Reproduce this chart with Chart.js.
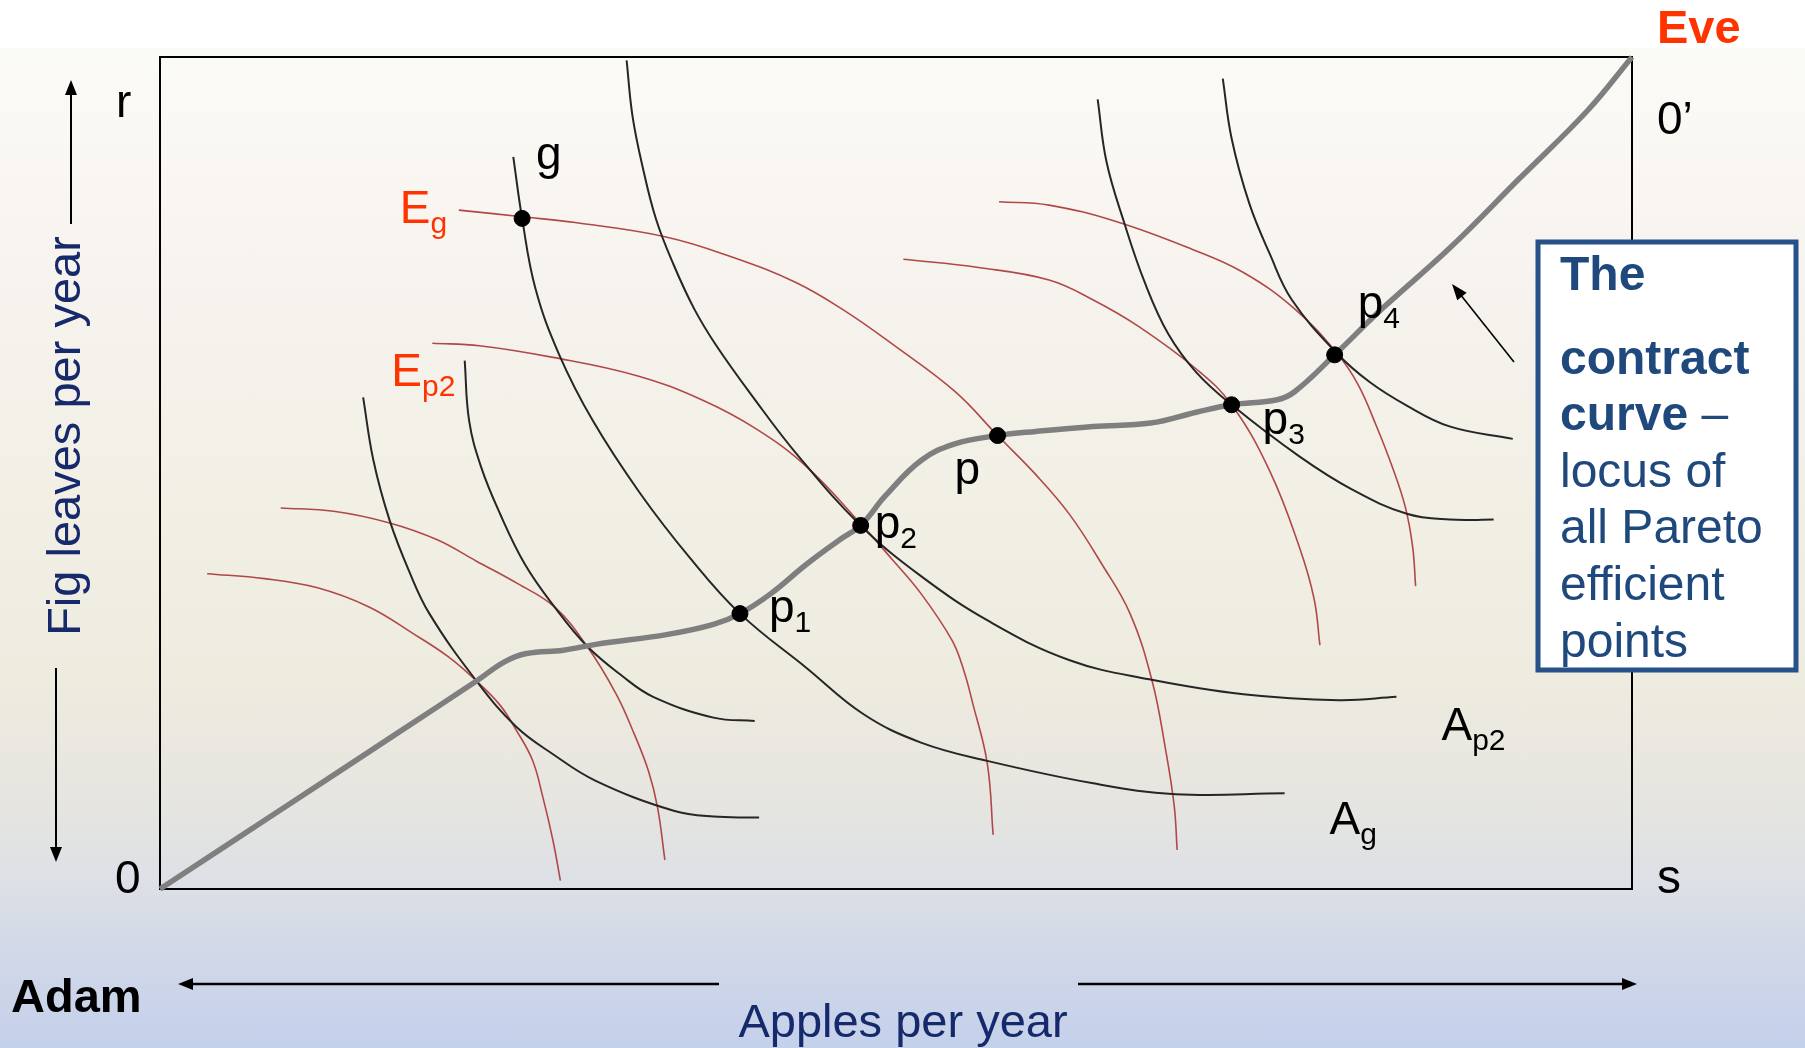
<!DOCTYPE html>
<html>
<head>
<meta charset="utf-8">
<script src="https://cdn.jsdelivr.net/npm/chart.js@4.4.1/dist/chart.umd.min.js"></script>
<style>
  html, body { margin: 0; padding: 0; }
  body {
    width: 1805px; height: 1048px; overflow: hidden;
    background: linear-gradient(to bottom, #ffffff 0px, #ffffff 47px, #fbfbf6 48px, #faf7f3 170px,
      #f6f3ee 300px, #f2efe5 500px, #eeebdf 680px, #e6e5e0 800px, #dde0e6 880px, #d0d7e8 960px, #c4d1eb 1048px);
  }
  #wrap { position: relative; width: 1805px; height: 1048px; }
</style>
</head>
<body>
<div id="wrap"><canvas id="edgeworth"></canvas></div>
<script>
// Edgeworth box, both axes 0..100 (Adam's origin bottom-left, Eve's top-right)
const contractCurve = [[0,0],[8.1,9.4],[16.1,18.7],[21.5,25.0],[23.4,27.3],[24.9,28.3],[27.4,28.7],[29.6,29.4],
  [34.5,30.6],[37.6,31.8],[39.4,33.1],[41.5,35.5],[43.9,39.0],[46.2,42.0],[47.6,43.7],
  [49.3,47.3],[51.7,51.5],[54.0,53.5],[56.9,54.5],[59.5,55.0],[63.4,55.6],[67.3,56.0],[70.4,57.3],[72.8,58.2],
  [75.9,58.8],[77.1,59.8],[79.8,64.2],[83.0,69.7],[87.6,77.0],[92.3,85.3],[97.0,93.6],[100,100]];

// Adam's indifference curves (black)
const adam1 = [[13.8,59.1],[14.5,51.5],[15.6,44.3],[16.9,38.3],[18.3,33.1],[21.5,25.0],[24.2,19.5],[26.7,16.2],
  [29.6,13.0],[34.9,9.4],[37.6,8.7],[40.7,8.6]];
const adam2 = [[20.7,63.5],[21.0,56.3],[21.8,50.8],[23.1,45.1],[24.8,39.0],[26.8,33.9],[29.0,29.2],[31.4,25.6],
  [33.5,23.1],[37.6,20.6],[40.4,20.2]];
const adamG = [[24.0,88.0],[24.6,80.6],[25.5,72.2],[27.1,64.3],[29.4,56.3],[32.6,47.6],[36.0,39.8],[39.4,33.1],
  [43.9,26.6],[47.8,21.0],[51.7,17.6],[56.2,15.4],[63.4,12.7],[69.0,11.4],[76.4,11.5]];
const adamP2 = [[31.7,99.6],[32.1,92.9],[32.8,86.7],[33.7,80.5],[34.9,75.0],[36.3,69.7],[37.8,65.3],[40.3,59.1],
  [43.2,52.4],[47.6,43.7],[51.7,37.6],[56.4,32.1],[61.8,27.5],[67.2,25.2],[73.6,23.4],[80.1,22.7],[84.0,23.1]];
const adam5 = [[63.7,94.9],[64.3,87.4],[65.5,80.1],[66.9,72.9],[68.5,66.7],[70.4,62.1],[72.8,58.2],[77.4,52.0],
  [81.0,48.0],[84.7,45.1],[87.6,44.4],[90.6,44.4]];
const adam6 = [[72.2,97.4],[72.8,90.2],[74.0,82.4],[75.4,76.3],[76.9,70.8],[80.0,64.3],[82.2,60.9],[84.7,58.1],
  [87.6,55.6],[91.9,54.1]];

// Eve's indifference curves (red)
const eve1 = [[3.2,37.9],[7.1,37.3],[10.7,36.2],[14.2,33.9],[17.2,30.7],[19.6,27.9],[21.5,25.0],[23.1,22.1],
  [24.2,19.1],[25.3,15.5],[26.0,11.1],[26.7,5.8],[27.2,1.0]];
const eve2 = [[8.2,45.8],[11.8,45.4],[15.6,44.0],[18.8,42.0],[21.5,39.4],[24.3,36.7],[26.8,33.9],[29.0,29.2],
  [31.0,23.4],[32.2,18.7],[33.2,14.1],[33.8,9.8],[34.3,3.5]];
const eveP2 = [[18.5,65.6],[21.7,65.3],[26.7,63.9],[32.4,61.7],[36.8,58.8],[40.5,55.3],[43.9,50.8],[47.5,44.1],
  [49.7,39.7],[51.7,35.5],[53.8,29.9],[54.6,26.3],[55.2,22.4],[56.2,15.1],[56.6,6.5]];
const eveG = [[20.3,81.6],[24.6,80.8],[28.2,80.1],[34.3,78.4],[38.8,76.0],[43.2,72.9],[46.6,69.4],[49.9,65.3],
  [54.0,59.8],[56.9,54.5],[59.5,49.8],[61.8,45.0],[64.0,39.0],[65.9,33.1],[67.4,25.0],[68.3,16.9],[68.9,10.0],[69.1,4.7]];
const eve5 = [[50.5,75.7],[55.6,74.7],[60.4,73.2],[63.4,70.8],[66.5,67.6],[70.4,62.5],[72.8,58.2],[75.4,50.2],
  [77.4,41.1],[78.4,34.9],[78.8,29.3]];
const eve6 = [[57.0,82.6],[60.4,82.2],[65.0,80.2],[70.1,76.9],[73.6,74.1],[77.1,69.7],[80.0,64.3],[81.4,60.6],
  [82.6,55.8],[83.7,50.8],[84.6,45.9],[85.1,41.1],[85.3,36.4]];

// labelled allocations
const allocations = [[24.6,80.6],[39.4,33.1],[47.6,43.7],[56.9,54.5],[72.8,58.2],[79.8,64.2]];
const allocationNames = ['g','p','p','p','p','p'];
const allocationSubs = ['','1','2','','3','4'];

const calloutLines = ['The', '', 'contract', 'curve', 'locus of', 'all Pareto', 'efficient', 'points'];

const toXY = arr => arr.map(p => ({ x: p[0], y: p[1] }));
const FONT = '"Liberation Sans", Arial, Helvetica, sans-serif';
const BLACK_IC = '#262626';
const RED_IC = '#b04848';

function curve(arr, color, width) {
  return {
    data: toXY(arr), showLine: true, borderColor: color, borderWidth: width,
    pointRadius: 0, pointHoverRadius: 0, tension: 0.4, fill: false, clip: false
  };
}

function arrow(ctx, x1, y1, x2, y2, head, half) {
  const a = Math.atan2(y2 - y1, x2 - x1);
  ctx.beginPath();
  ctx.moveTo(x1, y1);
  ctx.lineTo(x2 - Math.cos(a) * head * 0.8, y2 - Math.sin(a) * head * 0.8);
  ctx.stroke();
  ctx.beginPath();
  ctx.moveTo(x2, y2);
  ctx.lineTo(x2 - Math.cos(a) * head - Math.sin(a) * half, y2 - Math.sin(a) * head + Math.cos(a) * half);
  ctx.lineTo(x2 - Math.cos(a) * head + Math.sin(a) * half, y2 - Math.sin(a) * head - Math.cos(a) * half);
  ctx.closePath();
  ctx.fill();
}

function subText(ctx, x, y, main, sub, size, subSize, color) {
  ctx.fillStyle = color;
  ctx.font = size + 'px ' + FONT;
  ctx.fillText(main, x, y);
  if (sub) {
    const w = ctx.measureText(main).width;
    ctx.font = subSize + 'px ' + FONT;
    ctx.fillText(sub, x + w, y + 10);
  }
}

const boxPlugin = {
  id: 'boxPlugin',
  beforeDatasetsDraw(chart) {
    const { ctx, chartArea: a } = chart;
    ctx.save();
    ctx.strokeStyle = '#000';
    ctx.lineWidth = 2;
    ctx.strokeRect(a.left, a.top, a.right - a.left, a.bottom - a.top);
    ctx.restore();
  },
  afterDatasetsDraw(chart) {
    const { ctx } = chart;
    const sx = chart.scales.x, sy = chart.scales.y;
    const X = v => sx.getPixelForValue(v), Y = v => sy.getPixelForValue(v);
    ctx.save();
    ctx.textAlign = 'left';
    ctx.textBaseline = 'alphabetic';

    // labels at the allocations
    const offs = [[14, -49], [29, 8], [14, 13], [-43, 48], [31, 29], [23, -37]];
    allocations.forEach((p, i) => {
      subText(ctx, X(p[0]) + offs[i][0], Y(p[1]) + offs[i][1], allocationNames[i], allocationSubs[i], 46, 30, '#000');
    });
    // curve names
    subText(ctx, X(eveG[0][0]) - 59, Y(eveG[0][1]) + 13, 'E', 'g', 46, 30, '#ff3300');
    subText(ctx, X(eveP2[0][0]) - 41, Y(eveP2[0][1]) + 43, 'E', 'p2', 46, 30, '#ff3300');
    const ag = adamG[adamG.length - 1], ap = adamP2[adamP2.length - 1];
    subText(ctx, X(ag[0]) + 45, Y(ag[1]) + 41, 'A', 'g', 46, 30, '#000');
    subText(ctx, X(ap[0]) + 45, Y(ap[1]) + 43, 'A', 'p2', 46, 30, '#000');

    // corner labels
    ctx.fillStyle = '#000';
    ctx.font = '46px ' + FONT;
    ctx.fillText('r', 116, 117);
    ctx.fillText('0', 115, 893);
    ctx.fillText('0\u2019', 1657, 134);
    ctx.font = '48px ' + FONT;
    ctx.fillText('s', 1657, 893);
    ctx.font = 'bold 47px ' + FONT;
    ctx.fillText('Adam', 11, 1012);
    ctx.fillStyle = '#ff3300';
    ctx.fillText('Eve', 1657, 43);

    // axis titles
    ctx.fillStyle = '#15296b';
    ctx.font = '47px ' + FONT;
    ctx.textAlign = 'center';
    ctx.fillText('Apples per year', 903, 1037);
    ctx.save();
    ctx.translate(80, 436);
    ctx.rotate(-Math.PI / 2);
    ctx.fillText('Fig leaves per year', 0, 0);
    ctx.restore();
    ctx.textAlign = 'left';

    // arrows
    ctx.strokeStyle = '#000';
    ctx.fillStyle = '#000';
    ctx.lineWidth = 2;
    arrow(ctx, 71, 224, 71, 80, 15, 6);
    arrow(ctx, 56, 668, 56, 862, 15, 6);
    ctx.lineWidth = 2.5;
    arrow(ctx, 719, 984, 178, 984, 15, 6);
    arrow(ctx, 1078, 984, 1637, 984, 15, 6);
    ctx.lineWidth = 1.6;
    arrow(ctx, 1514, 362, 1452, 284, 16, 6);

    // callout box
    ctx.fillStyle = '#ffffff';
    ctx.fillRect(1538, 242, 258, 428);
    ctx.strokeStyle = '#27518a';
    ctx.lineWidth = 5;
    ctx.strokeRect(1538, 242, 258, 428);
    ctx.fillStyle = '#1f497d';
    const base = [290, 0, 374, 430, 487, 543, 600, 657];
    calloutLines.forEach((t, i) => {
      if (!t) return;
      const bold = i <= 3;
      ctx.font = (bold ? 'bold ' : '') + '48px ' + FONT;
      ctx.fillText(t, 1560, base[i]);
      if (t === 'curve') {
        const w = ctx.measureText(t + ' ').width;
        ctx.font = '48px ' + FONT;
        ctx.fillText('\u2013', 1560 + w, base[i]);
      }
    });
    ctx.restore();
  }
};

new Chart(document.getElementById('edgeworth'), {
  type: 'scatter',
  data: {
    datasets: [
      { data: toXY(allocations), pointRadius: 8, pointHoverRadius: 8, pointBackgroundColor: '#000',
        pointBorderColor: '#000', showLine: false, clip: false },
      curve(contractCurve, '#7f7f7f', 5.5),
      curve(adam1, BLACK_IC, 2), curve(adam2, BLACK_IC, 2), curve(adamG, BLACK_IC, 2),
      curve(adamP2, BLACK_IC, 2), curve(adam5, BLACK_IC, 2), curve(adam6, BLACK_IC, 2),
      curve(eve1, RED_IC, 1.6), curve(eve2, RED_IC, 1.6), curve(eveP2, RED_IC, 1.6),
      curve(eveG, RED_IC, 1.6), curve(eve5, RED_IC, 1.6), curve(eve6, RED_IC, 1.6)
    ]
  },
  options: {
    responsive: true,
    maintainAspectRatio: false,
    animation: false,
    devicePixelRatio: 1,
    layout: { padding: { left: 160, top: 57, right: 173, bottom: 159 } },
    scales: {
      x: { type: 'linear', min: 0, max: 100, display: false },
      y: { type: 'linear', min: 0, max: 100, display: false }
    },
    plugins: { legend: { display: false }, tooltip: { enabled: false } },
    events: []
  },
  plugins: [boxPlugin]
});
</script>
</body>
</html>
